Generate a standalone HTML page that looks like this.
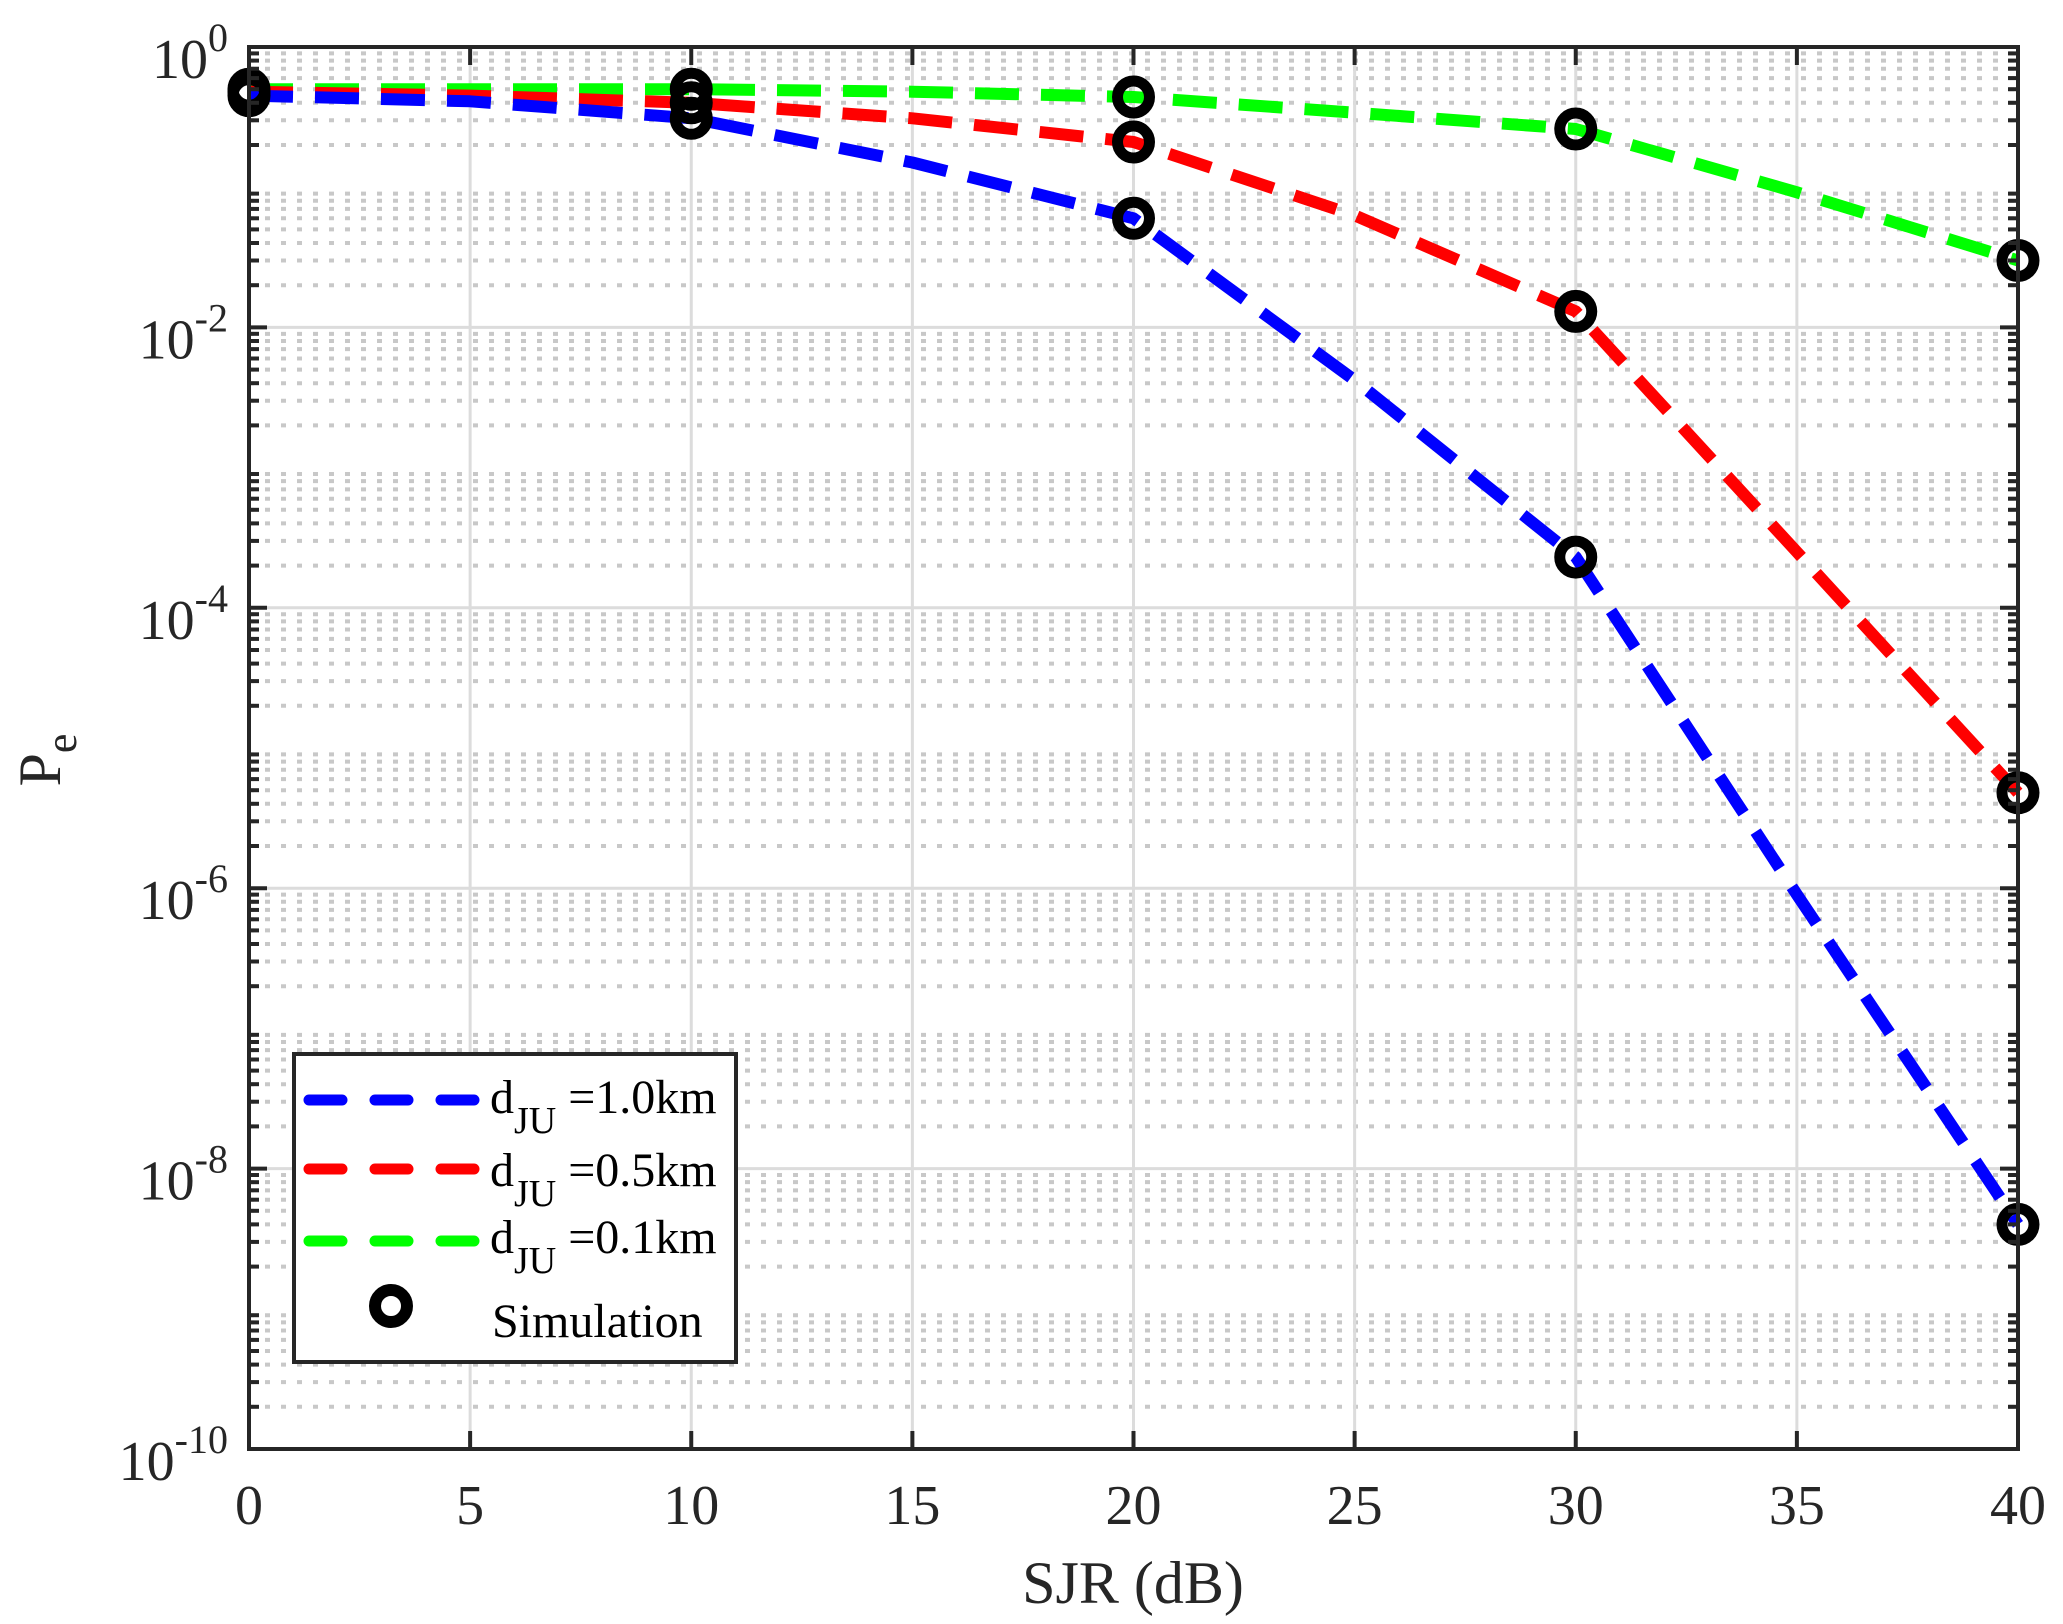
<!DOCTYPE html>
<html><head><meta charset="utf-8"><style>
html,body{margin:0;padding:0;background:#fff}
svg{display:block;font-family:"Liberation Serif",serif}
</style></head><body>
<svg id="chart" width="2063" height="1624" viewBox="0 0 2063 1624" xmlns="http://www.w3.org/2000/svg">
<rect width="2063" height="1624" fill="#fff"/>
<g id="grid"></g>
<g id="series"></g>
<g id="axes"></g>
<text x="1133" y="1603" font-size="60" text-anchor="middle" fill="#262626">SJR (dB)</text>
<text transform="translate(60,760) rotate(-90)" font-size="60" text-anchor="middle" fill="#262626">P<tspan font-size="44" dy="16">e</tspan></text>
<g>
<rect x="294" y="1054" width="442" height="308" fill="#fff" stroke="#262626" stroke-width="4"/>
<line x1="309" y1="1100" x2="478" y2="1100" stroke="#0000ff" stroke-width="11" stroke-linecap="round" stroke-dasharray="33 33"/>
<line x1="309" y1="1169" x2="478" y2="1169" stroke="#ff0000" stroke-width="11" stroke-linecap="round" stroke-dasharray="33 33"/>
<line x1="309" y1="1241" x2="478" y2="1241" stroke="#00ff00" stroke-width="11" stroke-linecap="round" stroke-dasharray="33 33"/>
<circle cx="391" cy="1306" r="16" fill="none" stroke="#000" stroke-width="12"/>
<text x="490" y="1113" font-size="48">d<tspan font-size="38" dy="20">JU</tspan><tspan dy="-20"> =1.0km</tspan></text>
<text x="490" y="1186" font-size="48">d<tspan font-size="38" dy="20">JU</tspan><tspan dy="-20"> =0.5km</tspan></text>
<text x="490" y="1253" font-size="48">d<tspan font-size="38" dy="20">JU</tspan><tspan dy="-20"> =0.1km</tspan></text>
<text x="492" y="1337" font-size="48">Simulation</text>
</g>
</svg>
<script>
const xValues = [0, 5, 10, 15, 20, 25, 30, 35, 40];
const blueValues = [0.45, 0.41, 0.31, 0.15, 0.06, 4.2e-3, 2.3e-4, 9e-7, 4e-9];
const redValues = [0.48, 0.45, 0.40, 0.31, 0.21, 0.063, 0.013, 2.5e-4, 4.8e-6];
const greenValues = [0.5, 0.5, 0.5, 0.48, 0.44, 0.34, 0.26, 0.092, 0.03];
const simX = [0, 10, 20, 30, 40];
const simBlue = [0.45, 0.31, 0.06, 2.3e-4, 4e-9];
const simRed = [0.48, 0.40, 0.21, 0.013, 4.8e-6];
const simGreen = [0.5, 0.5, 0.44, 0.26, 0.03];
const xTicks = [0, 5, 10, 15, 20, 25, 30, 35, 40];
const yTickExps = [0, -2, -4, -6, -8, -10];

const L = 249, R = 2018, T = 47, B = 1449;
const NS = 'http://www.w3.org/2000/svg';
function sx(v) { return L + (v - 0) / 40 * (R - L); }
function sy(v) { return T + (0 - Math.log10(v)) / 10 * (B - T); }
function mk(tag, attrs, parent) {
  const e = document.createElementNS(NS, tag);
  for (const k in attrs) e.setAttribute(k, attrs[k]);
  parent.appendChild(e);
  return e;
}
const grid = document.getElementById('grid');
const axes = document.getElementById('axes');
const series = document.getElementById('series');

for (let d = 0; d > -10; d--) {
  for (let m = 2; m <= 9; m++) {
    const y = sy(m * Math.pow(10, d - 1));
    const g = mk('line', {x1: L, x2: R, y1: y, y2: y, stroke: '#c8c8c8', 'stroke-width': 4, 'stroke-dasharray': '5 11'}, grid);
    
    
    for (const xx of [L, R]) {
      const t = mk('line', {x1: xx, x2: xx === L ? xx + 10 : xx - 10, y1: y, y2: y, stroke: '#262626', 'stroke-width': 4}, axes);
      
      
    }
  }
}
xTicks.forEach(v => {
  const x = sx(v);
  const g = mk('line', {x1: x, x2: x, y1: T, y2: B, stroke: '#dcdcdc', 'stroke-width': 3}, grid);
  
  
  for (const [a, b] of [[B, B - 18], [T, T + 18]]) {
    const t = mk('line', {x1: x, x2: x, y1: a, y2: b, stroke: '#262626', 'stroke-width': 4}, axes);
    
    
  }
  const lb = mk('text', {x: x, y: 1524, 'font-size': 56, 'text-anchor': 'middle', fill: '#262626'}, axes);
  lb.textContent = String(v);
  
  
});
yTickExps.forEach(e => {
  const y = sy(Math.pow(10, e));
  const g = mk('line', {x1: L, x2: R, y1: y, y2: y, stroke: '#dcdcdc', 'stroke-width': 3}, grid);
  
  
  for (const [a, b] of [[L, L + 18], [R, R - 18]]) {
    const t = mk('line', {x1: a, x2: b, y1: y, y2: y, stroke: '#262626', 'stroke-width': 4}, axes);
    
    
  }
  const lb = mk('text', {x: 228, y: y + 31, 'font-size': 56, 'text-anchor': 'end', fill: '#262626'}, axes);
  
  
  const base = document.createElementNS(NS, 'tspan');
  base.textContent = '10';
  lb.appendChild(base);
  const sup = document.createElementNS(NS, 'tspan');
  sup.setAttribute('font-size', '40');
  sup.setAttribute('dy', '-27');
  sup.textContent = String(e);
  lb.appendChild(sup);
});
const box = mk('rect', {x: L, y: T, width: R - L, height: B - T, fill: 'none', stroke: '#262626', 'stroke-width': 4}, axes);



function drawLine(vals, color, name) {
  const pts = xValues.map((x, i) => sx(x).toFixed(1) + ',' + sy(vals[i]).toFixed(1)).join(' ');
  const p = mk('polyline', {points: pts, fill: 'none', stroke: color, 'stroke-width': 12, 'stroke-dasharray': '44 22', 'stroke-linejoin': 'round'}, series);
  
  
}
drawLine(greenValues, '#00ff00', 'line-dju-0.1km');
drawLine(redValues, '#ff0000', 'line-dju-0.5km');
drawLine(blueValues, '#0000ff', 'line-dju-1.0km');
[simBlue, simRed, simGreen].forEach(arr => {
  simX.forEach((x, i) => {
    const c = mk('circle', {cx: sx(x), cy: sy(arr[i]), r: 16, fill: 'none', stroke: '#000', 'stroke-width': 11}, series);
    
    
  });
});
</script>
</body></html>
